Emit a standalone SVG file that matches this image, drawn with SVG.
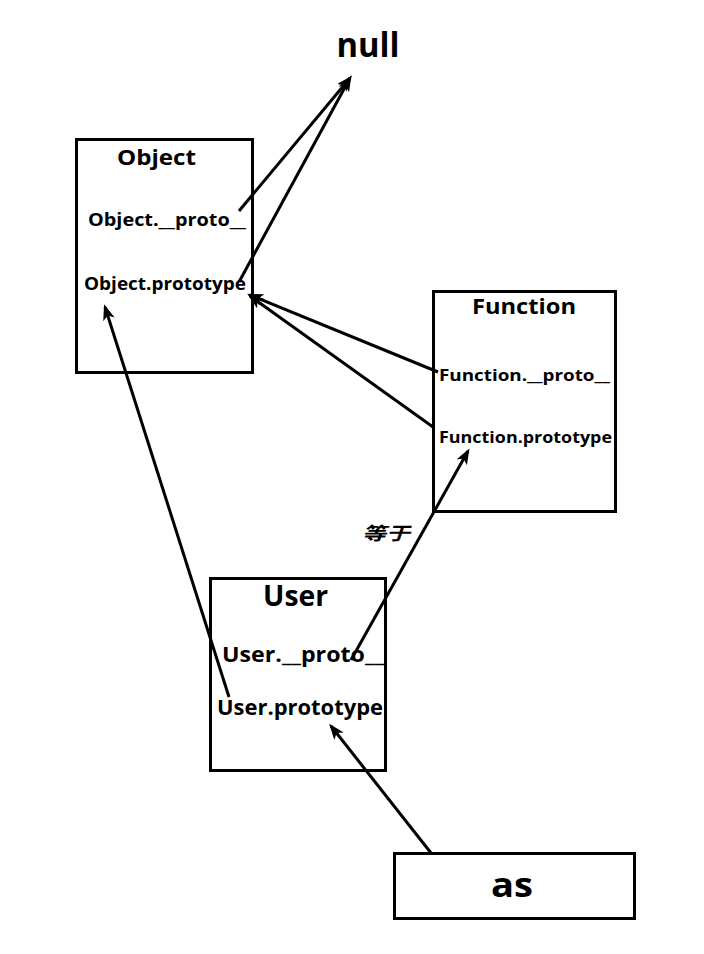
<svg xmlns="http://www.w3.org/2000/svg" width="704" height="954" viewBox="0 0 704 954">
<style>
.box{fill:#fff;stroke:#000;stroke-width:3}
.t{font-family:"Open Sans","Noto Sans","Liberation Sans",sans-serif;font-weight:bold;fill:#000}
.c{stroke:#000;stroke-width:3;fill:none;marker-end:url(#ah)}
</style>
<defs>
<marker id="ah" viewBox="0 0 16 12" refX="13" refY="6" markerWidth="16" markerHeight="12" markerUnits="userSpaceOnUse" orient="auto">
<path d="M0,0 L16,6 L0,12 L4,6 z" fill="#000"/>
</marker>
</defs>
<rect width="704" height="954" fill="#fff"/>
<text class="t" x="368" y="57" font-size="34" text-anchor="middle" textLength="63" lengthAdjust="spacingAndGlyphs">null</text>
<g id="object">
<rect class="box" x="76.5" y="139.5" width="176" height="233"/>
<text class="t" x="117" y="165" font-size="22" textLength="79" lengthAdjust="spacingAndGlyphs">Object</text>
<text class="t" x="88" y="226" font-size="17" textLength="158" lengthAdjust="spacingAndGlyphs">Object.__proto__</text>
<text class="t" x="84" y="290" font-size="17" textLength="162" lengthAdjust="spacingAndGlyphs">Object.prototype</text>
</g>
<g id="function">
<rect class="box" x="433.5" y="291.5" width="182" height="220"/>
<text class="t" x="472" y="314" font-size="22" textLength="104" lengthAdjust="spacingAndGlyphs">Function</text>
<text class="t" x="439" y="381" font-size="16" textLength="171" lengthAdjust="spacingAndGlyphs">Function.__proto__</text>
<text class="t" x="439" y="443" font-size="16" textLength="173" lengthAdjust="spacingAndGlyphs">Function.prototype</text>
</g>
<g id="user">
<rect class="box" x="210.5" y="578.5" width="175" height="192"/>
<text class="t" x="263" y="606" font-size="28" textLength="65" lengthAdjust="spacingAndGlyphs">User</text>
<text class="t" x="222" y="662" font-size="21" textLength="162" lengthAdjust="spacingAndGlyphs">User.__proto__</text>
<text class="t" x="217" y="715" font-size="21" textLength="166" lengthAdjust="spacingAndGlyphs">User.prototype</text>
</g>
<g id="as">
<rect class="box" x="394.5" y="853.5" width="240" height="65"/>
<text class="t" x="512" y="897" font-size="34" text-anchor="middle" textLength="42" lengthAdjust="spacingAndGlyphs">as</text>
</g>
<g id="connectors">
<line class="c" x1="239" y1="211" x2="350" y2="78"/>
<line class="c" x1="239" y1="282" x2="350" y2="78"/>
<line class="c" x1="438" y1="372" x2="250" y2="295"/>
<line class="c" x1="433" y1="427" x2="250" y2="296"/>
<line class="c" x1="351" y1="660" x2="468" y2="451"/>
<line class="c" x1="229" y1="697" x2="105" y2="307"/>
<line class="c" x1="431" y1="853" x2="331" y2="726"/>
<text x="362" y="540" font-family="'Noto Sans CJK SC',sans-serif" font-weight="bold" font-style="italic" font-size="18" textLength="48" lengthAdjust="spacingAndGlyphs">等于</text>
</g>
</svg>
